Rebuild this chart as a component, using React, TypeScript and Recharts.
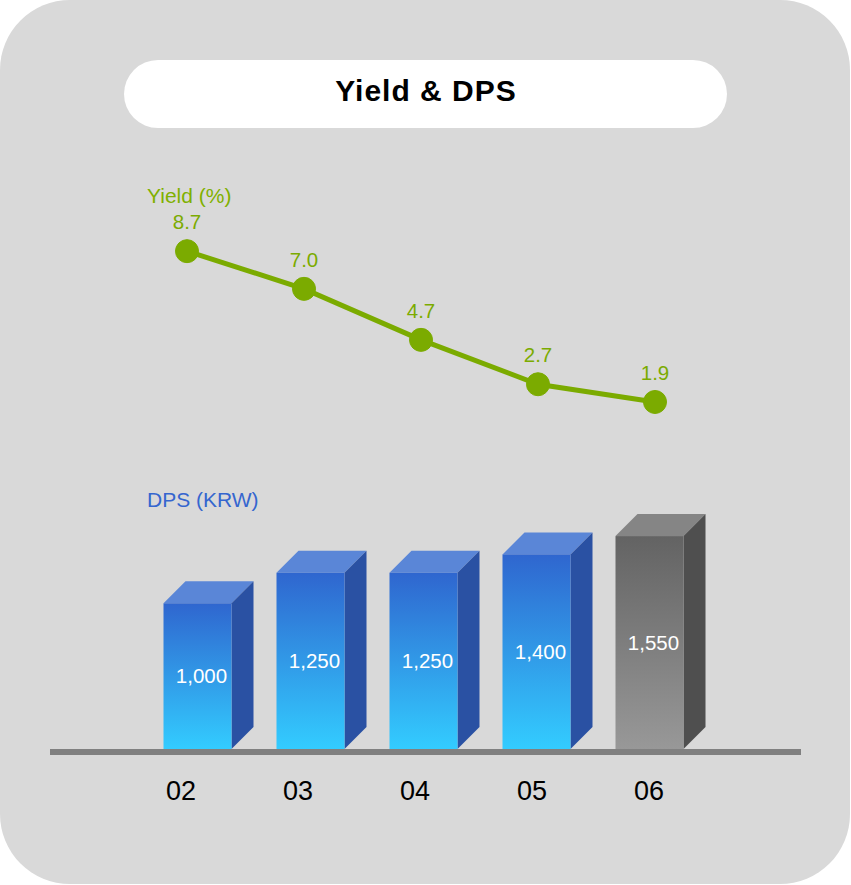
import { ComposedChart, Bar, Line, XAxis, YAxis, LabelList } from "recharts"

const years = ["02", "03", "04", "05", "06"]
const dpsKrw = [1000, 1250, 1250, 1400, 1550]
const yieldPct = [8.7, 7.0, 4.7, 2.7, 1.9]

const W = 851
const H = 885
const MARGIN = { top: 152, right: 50, bottom: 73, left: 50 }
const AXIS_H = 60
const DEPTH = 22
const GREEN = "#7bab00"
const FONT = "'Liberation Sans', Arial, sans-serif"

const data = years.map((year, i) => ({ year, dps: dpsKrw[i], yield: yieldPct[i] }))

// 3D block: front face + top face + right side, value written on the front
function Block3D(props: any) {
  const { x, y, width, index, value, background } = props
  const bottom = background
    ? background.y + background.height - 3
    : H - MARGIN.bottom - AXIS_H - 3
  const gray = index === years.length - 1
  const id = `front-${index}`
  const d = DEPTH
  const top = y
  return (
    <g>
      <defs>
        <linearGradient id={id} x1="0" y1="0" x2="0" y2="1">
          <stop offset="0%" stopColor={gray ? "#636363" : "#2f66cf"} />
          <stop offset="100%" stopColor={gray ? "#989898" : "#33ccff"} />
        </linearGradient>
      </defs>
      <polygon
        points={`${x},${top} ${x + d},${top - d} ${x + width + d},${top - d} ${x + width},${top}`}
        fill={gray ? "#858585" : "#5a86d7"}
      />
      <polygon
        points={`${x + width},${top} ${x + width + d},${top - d} ${x + width + d},${bottom - d} ${x + width},${bottom}`}
        fill={gray ? "#4f4f4f" : "#2a51a3"}
      />
      <rect x={x} y={top} width={width} height={bottom - top} fill={`url(#${id})`} />
      <text
        x={x + width / 2 + 4}
        y={(top + bottom) / 2 + 7}
        textAnchor="middle"
        fill="#ffffff"
        fontSize={20.5}
      >
        {Number(value).toLocaleString("en-US")}
      </text>
    </g>
  )
}

function YieldLabel(props: any) {
  const x = props.viewBox?.x ?? props.x
  const y = props.viewBox?.y ?? props.y
  return (
    <text x={x} y={y - 22} textAnchor="middle" fill={GREEN} fontSize={20.5}>
      {Number(props.value).toFixed(1)}
    </text>
  )
}

export default function App() {
  return (
    <div
      style={{
        position: "absolute",
        left: 0,
        top: 0,
        width: W,
        height: H,
        background: "#ffffff",
        fontFamily: FONT,
      }}
    >
      <svg width={W} height={H} style={{ position: "absolute", left: 0, top: 0 }}>
        <rect x={0} y={0} width={850} height={884} rx={70} ry={70} fill="#d9d9d9" />
        <rect x={124} y={60} width={603} height={68} rx={34} ry={34} fill="#ffffff" />
        <text
          x={426}
          y={101}
          textAnchor="middle"
          fontSize={30}
          letterSpacing={1}
          fontWeight="bold"
          fill="#000000"
        >
          Yield &amp; DPS
        </text>
        <text x={147} y={203} fontSize={21} fill="#80b000">
          Yield (%)
        </text>
        <text x={147} y={507} fontSize={21} fill="#3566cf">
          DPS (KRW)
        </text>
      </svg>

      <div style={{ position: "absolute", left: 0, top: 0 }}>
        <ComposedChart width={W} height={H} data={data} margin={MARGIN}>
          <XAxis
            xAxisId="bars"
            dataKey="year"
            orientation="top"
            height={0}
            hide
            padding={{ left: 90.5, right: 95.5 }}
          />
          <XAxis
            xAxisId="line"
            dataKey="year"
            height={AXIS_H}
            padding={{ left: 78.5, right: 87.5 }}
            axisLine={{ stroke: "#808080", strokeWidth: 6 }}
            tickLine={false}
            tickSize={0}
            tickMargin={29}
            tick={{ fill: "#000000", fontSize: 27, dx: -6 }}
          />
          <YAxis yAxisId="dps" type="number" hide domain={[-217, 4693]} allowDataOverflow />
          <YAxis yAxisId="yield" type="number" hide domain={[-13.88, 13.17]} allowDataOverflow />
          <Bar
            xAxisId="bars"
            yAxisId="dps"
            dataKey="dps"
            barSize={68}
            shape={<Block3D />}
            isAnimationActive={false}
          />
          <Line
            xAxisId="line"
            yAxisId="yield"
            dataKey="yield"
            stroke={GREEN}
            strokeWidth={5}
            dot={{ r: 11.5, fill: GREEN, stroke: GREEN, strokeWidth: 1 }}
            activeDot={false}
            isAnimationActive={false}
          >
            <LabelList dataKey="yield" content={<YieldLabel />} />
          </Line>
        </ComposedChart>
      </div>
    </div>
  )
}
